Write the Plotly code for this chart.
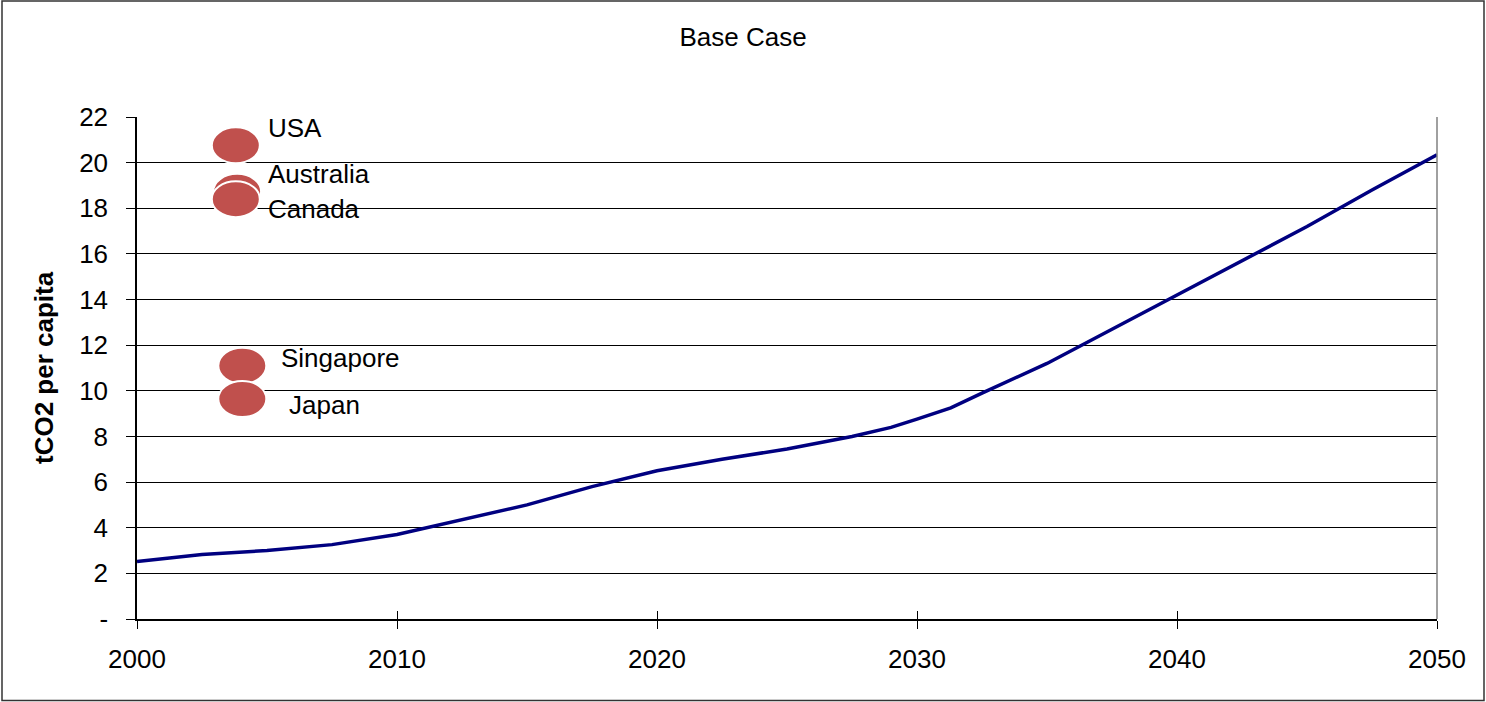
import plotly.graph_objects as go

# Base-case projection of per-capita emissions (tCO2 per person)
years = [2000, 2002.5, 2005, 2007.5, 2010, 2012.5, 2015, 2017.5, 2020, 2022.5,
         2025, 2027.5, 2029, 2030, 2031.3, 2032.5, 2035, 2037.5, 2040, 2042.5,
         2045, 2047.5, 2050]
base_case = [2.52, 2.83, 3.0, 3.26, 3.7, 4.35, 5.0, 5.8, 6.5, 7.0,
             7.45, 8.0, 8.4, 8.76, 9.25, 9.9, 11.2, 12.7, 14.2, 15.7,
             17.2, 18.8, 20.35]

# Current per-capita emissions of comparison countries
countries = ["USA", "Australia", "Canada", "Singapore", "Japan"]
country_year = [2003.8, 2003.85, 2003.8, 2004.05, 2004.05]
country_value = [20.76, 18.72, 18.4, 11.1, 9.64]

y_ticks = [0, 2, 4, 6, 8, 10, 12, 14, 16, 18, 20, 22]
y_tick_text = ["-", "2", "4", "6", "8", "10", "12", "14", "16", "18", "20", "22"]
x_ticks = [2000, 2010, 2020, 2030, 2040, 2050]

# label placement (pixel offsets from each bubble centre)
label_dx = [30, 29, 30, 37, 45]
label_dy = [17, 18, -10, 8, -6]

FONT = "Arial, Liberation Sans, sans-serif"
FS = 26
W, H = 1486, 702
L, R, T, B = 137, 49, 117, 83
PW, PH = W - L - R, H - T - B

fig = go.Figure()
fig.add_trace(go.Scatter(
    x=years, y=base_case, mode="lines", name="Base Case",
    line=dict(color="#000080", width=3.5), showlegend=False,
))

shapes = []
annotations = []
for name, xv, yv, dx, dy in zip(countries, country_year, country_value, label_dx, label_dy):
    shapes.append(dict(
        type="circle", xref="x", yref="y",
        xsizemode="pixel", ysizemode="pixel",
        xanchor=xv, yanchor=yv,
        x0=-24, x1=24, y0=-18, y1=18,
        fillcolor="#C0504D", line=dict(color="white", width=2),
        layer="above",
    ))
    annotations.append(dict(
        x=xv, y=yv, xref="x", yref="y", text=name, showarrow=False,
        xanchor="left", yanchor="middle", xshift=dx, yshift=dy,
        font=dict(family=FONT, size=FS, color="black"),
    ))

# right-hand plot border (grey)
shapes.append(dict(type="line", xref="paper", yref="paper", x0=1, x1=1, y0=0, y1=1,
                   line=dict(color="#808080", width=1.5), layer="above"))
# outer chart frame
shapes.append(dict(type="rect", xref="paper", yref="paper",
                   x0=(2 - L) / PW, x1=(1484 - L) / PW,
                   y0=(T + PH - 700.5) / PH, y1=(T + PH - 1) / PH,
                   line=dict(color="#333333", width=1.5), layer="below"))

# axis title
annotations.append(dict(
    x=0, y=0.5, xref="paper", yref="paper", xanchor="center", yanchor="middle",
    xshift=-(L - 44), text="<b>tCO2 per capita</b>", textangle=-90, showarrow=False,
    font=dict(family=FONT, size=FS, color="black"),
))

fig.update_layout(
    width=W, height=H,
    margin=dict(l=L, r=R, t=T, b=B),
    paper_bgcolor="white", plot_bgcolor="white",
    title=dict(text="Base Case", x=0.5, xref="container", xanchor="center",
               y=1 - 37 / H, yref="container", yanchor="middle",
               font=dict(family=FONT, size=FS, color="black")),
    xaxis=dict(range=[2000, 2050], tickvals=x_ticks, showgrid=False,
               showline=True, linecolor="black", linewidth=1.5,
               ticks="outside", ticklen=8, tickcolor="black", tickwidth=1.2,
               ticklabelstandoff=8, zeroline=False,
               tickfont=dict(family=FONT, size=FS, color="black")),
    xaxis2=dict(range=[2000, 2050], tickvals=x_ticks, overlaying="x",
                matches="x", showgrid=False, showline=False, showticklabels=False,
                ticks="inside", ticklen=8, tickcolor="black", tickwidth=1.2,
                zeroline=False, anchor="y"),
    yaxis=dict(range=[0, 22.001], tickvals=y_ticks, ticktext=y_tick_text,
               showgrid=True, gridcolor="black", gridwidth=1,
               showline=True, linecolor="black", linewidth=1.5,
               ticks="outside", ticklen=9, tickcolor="black", tickwidth=1.2,
               ticklabelstandoff=13, zeroline=False,
               tickfont=dict(family=FONT, size=FS, color="black")),
    shapes=shapes,
    annotations=annotations,
)
# invisible trace to activate the secondary x axis (inner half of the crossing ticks)
fig.add_trace(go.Scatter(x=[2000], y=[0], xaxis="x2", yaxis="y", mode="markers",
                         marker=dict(opacity=0), showlegend=False, hoverinfo="skip"))

fig.write_html("out.html")
